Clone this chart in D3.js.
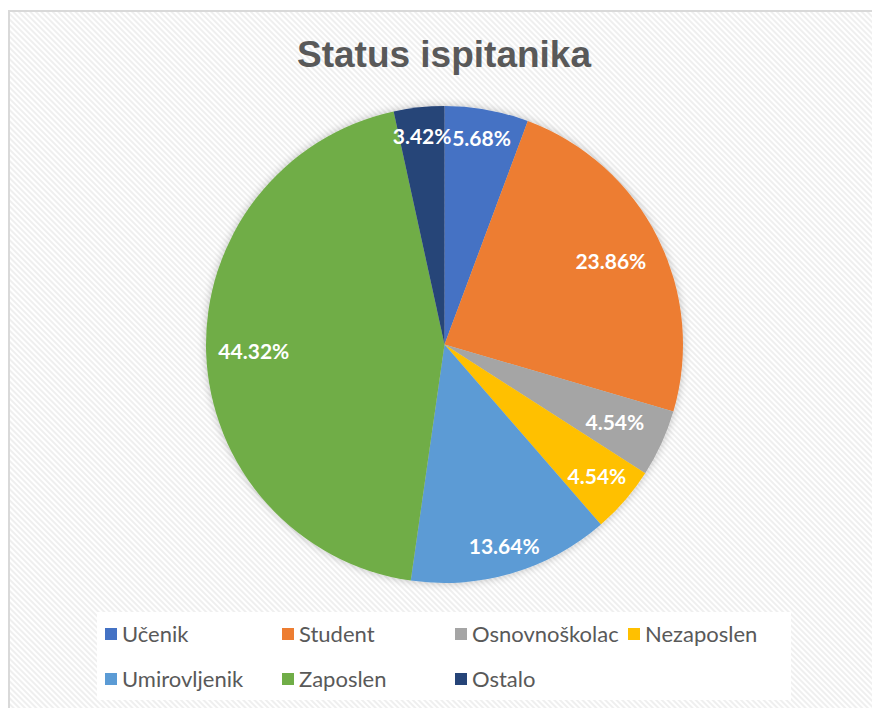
<!DOCTYPE html>
<html><head><meta charset="utf-8">
<script src="https://cdn.jsdelivr.net/npm/d3@7"></script>
<style>html,body{margin:0;padding:0;background:#fff;}svg{display:block;}</style>
</head><body>
<svg id="chart" width="872" height="708"></svg>
<script>
const title = "Status ispitanika";
const categories = ["Učenik","Student","Osnovnoškolac","Nezaposlen","Umirovljenik","Zaposlen","Ostalo"];
const values = [5.68, 23.86, 4.54, 4.54, 13.64, 44.32, 3.42];
const labels = ["5.68%","23.86%","4.54%","4.54%","13.64%","44.32%","3.42%"];
const colors = ["#4472C4","#ED7D31","#A5A5A5","#FFC000","#5B9BD5","#70AD47","#264478"];

const svg = d3.select("#chart");
const defs = svg.append("defs");
const pat = defs.append("pattern").attr("id","stripes").attr("patternUnits","userSpaceOnUse")
  .attr("width",4).attr("height",4).attr("patternTransform","rotate(-45)");
pat.append("rect").attr("width",4).attr("height",4).attr("fill","#ffffff");
pat.append("rect").attr("width",2).attr("height",4).attr("fill","#efefef");
const f = defs.append("filter").attr("id","shadow").attr("x","-20%").attr("y","-20%").attr("width","140%").attr("height","140%");
f.append("feGaussianBlur").attr("in","SourceAlpha").attr("stdDeviation",4).attr("result","b");
f.append("feComponentTransfer").attr("in","b").attr("result","b2").append("feFuncA").attr("type","linear").attr("slope",0.25);
const m = f.append("feMerge"); m.append("feMergeNode").attr("in","b2"); m.append("feMergeNode").attr("in","SourceGraphic");

svg.append("rect").attr("x",9).attr("y",11).attr("width",880).attr("height",720)
  .attr("fill","url(#stripes)").attr("stroke","#d9d9d9").attr("stroke-width",2);

svg.append("text").attr("x",444).attr("y",67).attr("text-anchor","middle")
  .attr("font-family","'Liberation Sans', Arial, sans-serif").attr("font-weight","bold")
  .attr("font-size",37).attr("fill","#595959").text(title);

const cx = 444.5, cy = 344.5, R = 238.5;
const pie = d3.pie().sort(null).value(d => d);
const arcs = pie(values);
const arc = d3.arc().innerRadius(0).outerRadius(R);
const g = svg.append("g").attr("transform",`translate(${cx},${cy})`);
const pg = g.append("g").attr("filter","url(#shadow)");
pg.selectAll("path").data(arcs).join("path").attr("d",arc).attr("fill",(d,i)=>colors[i]);

const labelR = [0.875, 0.78, 0.785, 0.845, 0.885, 0.80, 0.875];
g.selectAll("text.lbl").data(arcs).join("text").attr("class","lbl")
  .attr("transform",(d,i)=>{const a=(d.startAngle+d.endAngle)/2; const r=R*labelR[i]; return `translate(${r*Math.sin(a)},${-r*Math.cos(a)})`;})
  .attr("text-anchor","middle").attr("dy","0.35em")
  .attr("font-family","Lato, 'Open Sans', sans-serif").attr("font-weight","bold")
  .attr("font-size",21).attr("fill","#ffffff").text((d,i)=>labels[i]);

// legend
svg.append("rect").attr("x",97).attr("y",612).attr("width",694).attr("height",88).attr("fill","#ffffff");
const colX = [105, 282, 455, 628];
const rowY = [634, 679];
const legPos = [[0,0],[1,0],[2,0],[3,0],[0,1],[1,1],[2,1]];
const lg = svg.append("g");
categories.forEach((c,i)=>{
  const [ci,ri] = legPos[i];
  lg.append("rect").attr("x",colX[ci]).attr("y",rowY[ri]-6).attr("width",12).attr("height",12).attr("fill",colors[i]);
  lg.append("text").attr("x",colX[ci]+17).attr("y",rowY[ri]).attr("dy","0.35em")
    .attr("font-family","Lato, 'Open Sans', sans-serif").attr("font-size",22).attr("fill","#595959").text(c);
});
</script>
</body></html>
